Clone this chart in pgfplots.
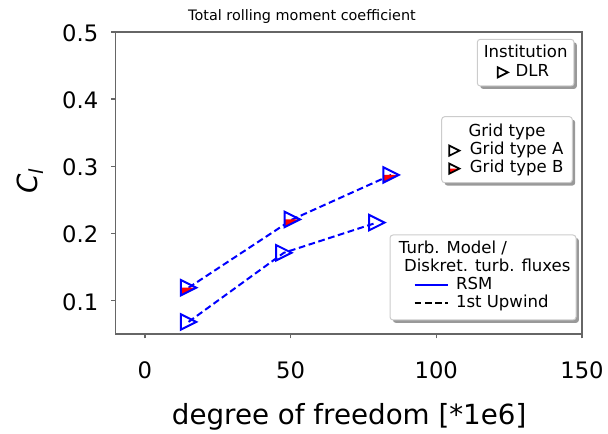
\documentclass[border=0pt]{standalone}
\usepackage{fontspec}
\setmainfont{DejaVu Sans}
\usepackage{pgfplots}
\pgfplotsset{compat=1.18}

\newcommand\legfont{\fontsize{12.4}{14}\selectfont}

% right-pointing triangle, open
\pgfdeclareplotmark{tri right}{%
  \pgfpathmoveto{\pgfqpoint{\pgfplotmarksize}{0pt}}%
  \pgfpathlineto{\pgfqpoint{-\pgfplotmarksize}{\pgfplotmarksize}}%
  \pgfpathlineto{\pgfqpoint{-\pgfplotmarksize}{-\pgfplotmarksize}}%
  \pgfpathclose
  \pgfusepathqstroke
}
% right-pointing triangle, lower half filled red
\pgfdeclareplotmark{tri right half}{%
  \pgfpathmoveto{\pgfqpoint{\pgfplotmarksize}{0pt}}%
  \pgfpathlineto{\pgfqpoint{-\pgfplotmarksize}{0pt}}%
  \pgfpathlineto{\pgfqpoint{-\pgfplotmarksize}{-\pgfplotmarksize}}%
  \pgfpathclose
  \pgfsetfillcolor{red}%
  \pgfusepathqfill
  \pgfpathmoveto{\pgfqpoint{\pgfplotmarksize}{0pt}}%
  \pgfpathlineto{\pgfqpoint{-\pgfplotmarksize}{\pgfplotmarksize}}%
  \pgfpathlineto{\pgfqpoint{-\pgfplotmarksize}{-\pgfplotmarksize}}%
  \pgfpathclose
  \pgfusepathqstroke
}

\pgfplotsset{
  frame geom/.style={scale only axis, width=349.725pt, height=226.5pt,
    at={(0pt,0pt)}, anchor=south west},
  legend only/.style={frame geom, hide axis, xmin=0, xmax=1, ymin=0, ymax=1,
    legend cell align=left,
    legend style={draw=none, fill=none, inner sep=0pt, outer sep=0pt,
      anchor=north west, font=\legfont, row sep=0pt, column sep=#1,
      nodes={inner sep=0pt, text height=10pt, text depth=3.5pt}}},
  mark entry/.style={legend image code/.code={%
      \path (0pt,0pt) (8pt,0pt);
      \draw[##1] plot coordinates {(4pt,0pt)};}},
  line entry/.style={legend image code/.code={%
      \draw[##1] (0pt,0pt) -- (24.75pt,0pt);}},
}

\begin{document}
\begin{tikzpicture}
\useasboundingbox (-86.775pt,-75pt) rectangle (369.225pt,250.5pt);

\begin{axis}[frame geom,
  xmin=-10, xmax=150, ymin=0.05, ymax=0.5,
  xtick={0,50,100,150}, ytick={0.1,0.2,0.3,0.4,0.5},
  scaled ticks=false,
  xtick pos=bottom, ytick pos=left,
  tick align=outside, major tick length=3.3pt,
  axis line style={black!60, line width=1pt},
  tick style={black!60, line width=1pt},
  /pgf/number format/assume math mode=true,
  ticklabel style={font=\fontsize{17}{20}\selectfont, inner sep=0pt},
  yticklabel style={anchor=east, xshift=-9.6pt, yshift=-1pt,
    /pgf/number format/fixed, /pgf/number format/precision=1,
    /pgf/number format/fixed zerofill},
  xticklabel style={anchor=north, yshift=-17.6pt},
]
% Grid type A
\addplot[blue, line width=1.5pt, dash pattern=on 5pt off 2.7pt,
  mark=tri right, mark size=5.8pt,
  mark options={solid, draw=blue, line width=1.5pt}]
  coordinates {(15,0.068) (47.7,0.171) (79.6,0.216)};
% Grid type B
\addplot[blue, line width=1.5pt, dash pattern=on 5pt off 2.7pt,
  mark=tri right half, mark size=5.8pt,
  mark options={solid, draw=blue, line width=1.5pt}]
  coordinates {(15,0.119) (50.6,0.2207) (84.5,0.287)};
\end{axis}

% chart title and axis labels
\node[anchor=base, font=\fontsize{10.8}{12}\selectfont] at (139.725pt,235.1pt)
  {Total rolling moment coefficient};
\node[anchor=base, font=\fontsize{20.8}{24}\selectfont] at (175.125pt,-68.25pt)
  {degree of freedom [*1e6]};
\node[rotate=90, anchor=base, font=\fontsize{20.8}{24}\selectfont] at (-58.275pt,114.75pt)
  {\textit{C}\textsubscript{\textit{l}}};

% legend frames with drop shadows
\foreach \xa/\ya/\xb/\yb in {271.2/221.0/343.7/186.0, 244.5/163.0/342.45/113.475, 205.725/74.25/345.225/10.5} {
  \fill[black!40, rounded corners=2.25pt] (\xa pt+2.2pt,\ya pt-2.2pt) rectangle (\xb pt+2.2pt,\yb pt-2.2pt);
  \filldraw[fill=white, draw=black!20, line width=0.75pt, rounded corners=2.25pt]
    (\xa pt,\ya pt) rectangle (\xb pt,\yb pt);
}

% legend titles
\node[anchor=base, font=\legfont, inner sep=0pt] at (307.46pt,207.0pt) {Institution};
\node[anchor=base, font=\legfont, inner sep=0pt] at (293.5pt,147.75pt) {Grid type};
\node[anchor=base west, font=\legfont, inner sep=0pt] at (212.25pt,60.375pt) {Turb. Model /};
\node[anchor=base west, font=\legfont, inner sep=0pt] at (216.15pt,46.875pt) {Diskret. turb. fluxes};

% legend entries
\begin{axis}[legend only=5pt, legend style={at={(0.81700,0.89614)}}]
\addlegendimage{mark entry, mark=tri right, mark size=3.8pt, black, line width=1.3pt}
\addlegendentry{DLR}
\end{axis}

\begin{axis}[legend only=7pt, legend style={at={(0.71299,0.63687)}}]
\addlegendimage{mark entry, mark=tri right, mark size=3.8pt, black, line width=1.3pt}
\addlegendentry{Grid type A}
\addlegendimage{mark entry, mark=tri right half, mark size=3.8pt, black, line width=1.3pt}
\addlegendentry{Grid type B}
\end{axis}

\begin{axis}[legend only=5.5pt, legend style={at={(0.63907,0.19150)}}]
\addlegendimage{line entry, blue, line width=1.5pt}
\addlegendentry{RSM}
\addlegendimage{line entry, black, line width=1.5pt, dash pattern=on 5pt off 2.7pt}
\addlegendentry{1st Upwind}
\end{axis}
\end{tikzpicture}
\end{document}
